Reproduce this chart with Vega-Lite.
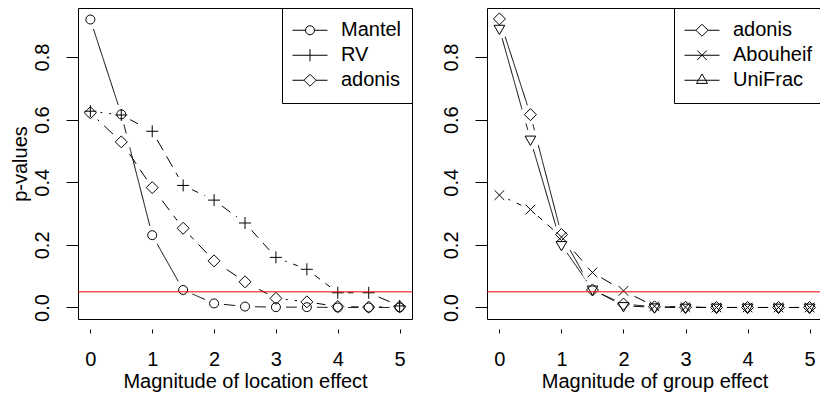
{
  "$schema": "https://vega.github.io/schema/vega-lite/v6.json",
  "padding": {"left": 9, "top": 7, "right": 0, "bottom": 0},
  "background": "white",
  "config": {
    "font": "Liberation Sans",
    "view": {"stroke": "black", "strokeWidth": 1},
    "axis": {"grid": false, "tickColor": "black", "tickWidth": 1, "labelColor": "black", "titleColor": "black", "labelFontSize": 20, "titleFontSize": 20, "titleFontWeight": "normal", "labelFont": "Liberation Sans", "titleFont": "Liberation Sans"},
    "axisX": {"offset": 10, "domain": false, "tickSize": 4, "labelPadding": 16.5, "titlePadding": 2, "labelAngle": 0},
    "axisY": {"domain": false, "tickSize": 12, "labelPadding": 14, "labelAngle": -90, "labelAlign": "center", "labelBaseline": "bottom", "titlePadding": 2},
    "legend": {"orient": "top-right", "offset": 0, "padding": 10, "strokeColor": "black", "fillColor": "white", "labelFontSize": 20, "labelFont": "Liberation Sans", "labelColor": "black", "symbolSize": 1225, "symbolStrokeWidth": 1, "symbolStrokeColor": "black", "symbolFillColor": "transparent", "symbolOpacity": 1, "labelOffset": 13, "clipHeight": 24.5, "rowPadding": 0}
  },
  "datasets": {
    "left": [
      {"effect": 0, "series": "Mantel", "p": 0.92}, {"effect": 0.5, "series": "Mantel", "p": 0.617}, {"effect": 1, "series": "Mantel", "p": 0.231}, {"effect": 1.5, "series": "Mantel", "p": 0.056}, {"effect": 2, "series": "Mantel", "p": 0.013}, {"effect": 2.5, "series": "Mantel", "p": 0.003}, {"effect": 3, "series": "Mantel", "p": 0.001}, {"effect": 3.5, "series": "Mantel", "p": 0.001}, {"effect": 4, "series": "Mantel", "p": 0.0}, {"effect": 4.5, "series": "Mantel", "p": 0.0}, {"effect": 5, "series": "Mantel", "p": 0.0},
      {"effect": 0, "series": "RV", "p": 0.627}, {"effect": 0.5, "series": "RV", "p": 0.615}, {"effect": 1, "series": "RV", "p": 0.563}, {"effect": 1.5, "series": "RV", "p": 0.39}, {"effect": 2, "series": "RV", "p": 0.343}, {"effect": 2.5, "series": "RV", "p": 0.27}, {"effect": 3, "series": "RV", "p": 0.16}, {"effect": 3.5, "series": "RV", "p": 0.122}, {"effect": 4, "series": "RV", "p": 0.047}, {"effect": 4.5, "series": "RV", "p": 0.047}, {"effect": 5, "series": "RV", "p": 0.005},
      {"effect": 0, "series": "adonis", "p": 0.622}, {"effect": 0.5, "series": "adonis", "p": 0.529}, {"effect": 1, "series": "adonis", "p": 0.383}, {"effect": 1.5, "series": "adonis", "p": 0.253}, {"effect": 2, "series": "adonis", "p": 0.149}, {"effect": 2.5, "series": "adonis", "p": 0.082}, {"effect": 3, "series": "adonis", "p": 0.029}, {"effect": 3.5, "series": "adonis", "p": 0.018}, {"effect": 4, "series": "adonis", "p": 0.003}, {"effect": 4.5, "series": "adonis", "p": 0.001}, {"effect": 5, "series": "adonis", "p": 0.002}
    ],
    "right": [
      {"effect": 0, "series": "adonis", "p": 0.922}, {"effect": 0.5, "series": "adonis", "p": 0.616}, {"effect": 1, "series": "adonis", "p": 0.233}, {"effect": 1.5, "series": "adonis", "p": 0.056}, {"effect": 2, "series": "adonis", "p": 0.011}, {"effect": 2.5, "series": "adonis", "p": 0.002}, {"effect": 3, "series": "adonis", "p": 0.001}, {"effect": 3.5, "series": "adonis", "p": 0.0}, {"effect": 4, "series": "adonis", "p": 0.0}, {"effect": 4.5, "series": "adonis", "p": 0.0}, {"effect": 5, "series": "adonis", "p": 0.0},
      {"effect": 0, "series": "Abouheif", "p": 0.359}, {"effect": 0.5, "series": "Abouheif", "p": 0.313}, {"effect": 1, "series": "Abouheif", "p": 0.225}, {"effect": 1.5, "series": "Abouheif", "p": 0.112}, {"effect": 2, "series": "Abouheif", "p": 0.053}, {"effect": 2.5, "series": "Abouheif", "p": 0.004}, {"effect": 3, "series": "Abouheif", "p": 0.001}, {"effect": 3.5, "series": "Abouheif", "p": 0.0}, {"effect": 4, "series": "Abouheif", "p": 0.0}, {"effect": 4.5, "series": "Abouheif", "p": 0.0}, {"effect": 5, "series": "Abouheif", "p": 0.0},
      {"effect": 0, "series": "UniFrac", "p": 0.891}, {"effect": 0.5, "series": "UniFrac", "p": 0.537}, {"effect": 1, "series": "UniFrac", "p": 0.2}, {"effect": 1.5, "series": "UniFrac", "p": 0.058}, {"effect": 2, "series": "UniFrac", "p": 0.005}, {"effect": 2.5, "series": "UniFrac", "p": 0.001}, {"effect": 3, "series": "UniFrac", "p": 0.0}, {"effect": 3.5, "series": "UniFrac", "p": 0.0}, {"effect": 4, "series": "UniFrac", "p": 0.0}, {"effect": 4.5, "series": "UniFrac", "p": 0.0}, {"effect": 5, "series": "UniFrac", "p": 0.0}
    ]
  },
  "spacing": 27,
  "resolve": {"scale": {"shape": "independent", "x": "independent", "y": "independent"}, "legend": {"shape": "independent"}},
  "hconcat": [
    {
      "width": 334, "height": 311,
      "data": {"name": "left"},
      "layer": [
        {"mark": {"type": "line", "color": "black", "strokeWidth": 1},
         "encoding": {
           "x": {"field": "effect", "type": "quantitative", "scale": {"domain": [-0.2, 5.2], "nice": false, "zero": false}, "axis": {"values": [0, 1, 2, 3, 4, 5], "format": "d", "title": "Magnitude of location effect"}},
           "y": {"field": "p", "type": "quantitative", "scale": {"domain": [-0.0368, 0.9568], "nice": false, "zero": false}, "axis": {"values": [0, 0.2, 0.4, 0.6, 0.8], "format": ".1f", "title": "p-values"}},
           "detail": {"field": "series", "type": "nominal"},
           "strokeDash": {"condition": {"test": "datum.series !== 'Mantel'", "value": [12, 7]}, "value": [1, 0]}
         }},
        {"mark": {"type": "point", "shape": "circle", "filled": true, "color": "white", "size": 400, "opacity": 1, "strokeWidth": 0},
         "encoding": {"x": {"field": "effect", "type": "quantitative"}, "y": {"field": "p", "type": "quantitative"}}},
        {"mark": {"type": "point", "filled": false, "color": "black", "strokeWidth": 1, "size": 144, "opacity": 1},
         "encoding": {
           "x": {"field": "effect", "type": "quantitative"},
           "y": {"field": "p", "type": "quantitative"},
           "shape": {"field": "series", "type": "nominal",
             "scale": {"domain": ["Mantel", "RV", "adonis"], "range": ["M-1,0H-0.257M0.257,0H1M-0.257,0A0.257,0.257 0 1,0 0.257,0A0.257,0.257 0 1,0 -0.257,0", "M-1,0H1M0,-0.343V0.343", "M-1,0H-0.343L0,-0.343L0.343,0L0,0.343L-0.343,0M0.343,0H1"]},
             "condition": [
               {"test": "datum.series === 'Mantel'", "value": "M-0.75,0A0.75,0.75 0 1,0 0.75,0A0.75,0.75 0 1,0 -0.75,0Z"},
               {"test": "datum.series === 'RV'", "value": "M-1,0H1M0,-1V1"},
               {"test": "datum.series === 'adonis'", "value": "M-1,0L0,-1L1,0L0,1Z"}
             ],
             "legend": {"title": null}}
         }},
        {"data": {"values": [{"p": 0.05}]},
         "mark": {"type": "rule", "color": "red", "strokeWidth": 1},
         "encoding": {"y": {"field": "p", "type": "quantitative"}}}
      ]
    },
    {
      "width": 335, "height": 311,
      "data": {"name": "right"},
      "layer": [
        {"mark": {"type": "line", "color": "black", "strokeWidth": 1},
         "encoding": {
           "x": {"field": "effect", "type": "quantitative", "scale": {"domain": [-0.2, 5.2], "nice": false, "zero": false}, "axis": {"values": [0, 1, 2, 3, 4, 5], "format": "d", "title": "Magnitude of group effect"}},
           "y": {"field": "p", "type": "quantitative", "scale": {"domain": [-0.0368, 0.9568], "nice": false, "zero": false}, "axis": {"values": [0, 0.2, 0.4, 0.6, 0.8], "format": ".1f", "title": null}},
           "detail": {"field": "series", "type": "nominal"},
           "strokeDash": {"condition": {"test": "datum.series === 'Abouheif'", "value": [12, 7]}, "value": [1, 0]}
         }},
        {"mark": {"type": "point", "shape": "circle", "filled": true, "color": "white", "size": 400, "opacity": 1, "strokeWidth": 0},
         "encoding": {"x": {"field": "effect", "type": "quantitative"}, "y": {"field": "p", "type": "quantitative"}}},
        {"mark": {"type": "point", "filled": false, "color": "black", "strokeWidth": 1, "size": 144, "opacity": 1},
         "encoding": {
           "x": {"field": "effect", "type": "quantitative"},
           "y": {"field": "p", "type": "quantitative"},
           "shape": {"field": "series", "type": "nominal",
             "scale": {"domain": ["adonis", "Abouheif", "UniFrac"], "range": ["M-1,0H-0.343L0,-0.343L0.343,0L0,0.343L-0.343,0M0.343,0H1", "M-1,0H1M-0.274,-0.274L0.274,0.274M0.274,-0.274L-0.274,0.274", "M-1,0H1M-0.314,0.18L0.314,0.18L0,-0.36Z"]},
             "condition": [
               {"test": "datum.series === 'adonis'", "value": "M-1,0L0,-1L1,0L0,1Z"},
               {"test": "datum.series === 'Abouheif'", "value": "M-0.8,-0.8L0.8,0.8M0.8,-0.8L-0.8,0.8"},
               {"test": "datum.series === 'UniFrac'", "value": "M-0.9,-0.55L0.9,-0.55L0,1Z"}
             ],
             "legend": {"title": null}}
         }},
        {"data": {"values": [{"p": 0.05}]},
         "mark": {"type": "rule", "color": "red", "strokeWidth": 1},
         "encoding": {"y": {"field": "p", "type": "quantitative"}}}
      ]
    }
  ]
}
